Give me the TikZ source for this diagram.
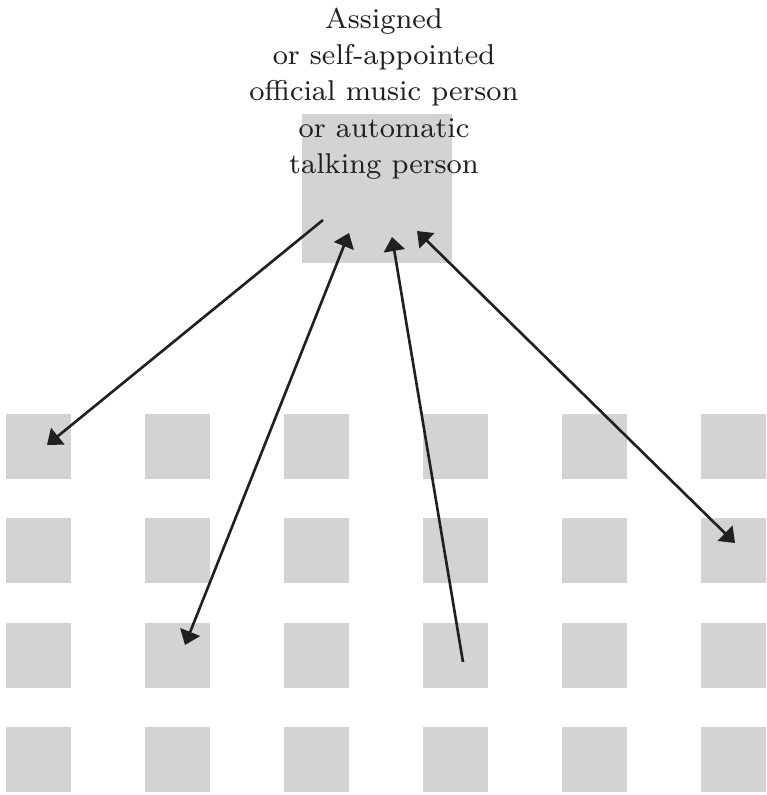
\documentclass[tikz,border=0pt]{standalone}
\usetikzlibrary{arrows.meta}

\definecolor{cellgray}{RGB}{209,211,212}
\definecolor{inkdark}{RGB}{35,31,32}
\tikzset{
  cell/.style={fill=cellgray,minimum size=6.5mm,inner sep=0pt},
  link/.style={line width=.75pt,color=inkdark},
}

\begin{document}
\begin{tikzpicture}[x=.1mm,y=-.1mm,>={Triangle[length=1.4mm,width=2.1mm]}]
  \useasboundingbox (0,0) rectangle (767,795);
  \node[cell,minimum width=15mm,minimum height=14.9mm] (hub) at (377,188.5) {};
  \foreach \i in {0,...,5}
    \foreach \j in {0,...,3}
      \node[cell] (c\i\j) at (38.5+139*\i,446.5+104.3*\j) {};

  \node[anchor=north,align=center,inner sep=0pt,text=inkdark,
        font=\fontsize{8.15}{10.35}\selectfont] (who) at (384,7)
    {Assigned\\or self-appointed\\official music person\\or automatic\\talking person};

  \coordinate (a0) at (323,220);  \coordinate (a1) at (47,445);
  \coordinate (b0) at (349,233);  \coordinate (b1) at (185,645);
  \coordinate (d0) at (463,662);  \coordinate (d1) at (392,237);
  \coordinate (e0) at (417,231);  \coordinate (e1) at (735,543);

  \draw[link,->] (a0) -- (a1);
  \draw[link,<->] (b0) -- (b1);
  \draw[link,->] (d0) -- (d1);
  \draw[link,<->] (e0) -- (e1);
\end{tikzpicture}
\end{document}
